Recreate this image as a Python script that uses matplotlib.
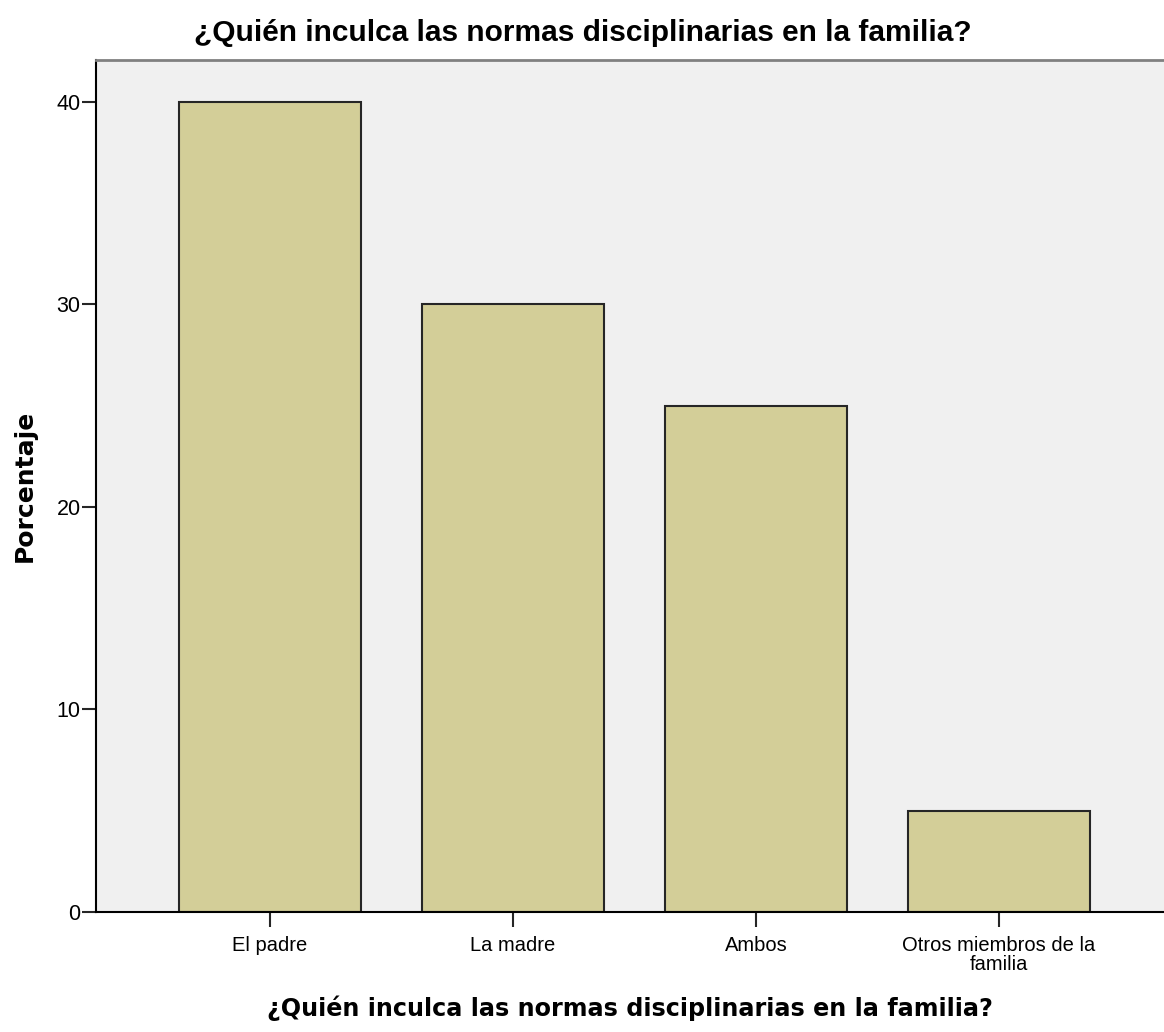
import matplotlib.pyplot as plt

categories = ["El padre", "La madre", "Ambos", "Otros miembros de la\nfamilia"]
values = [40, 30, 25, 5]
yticks = [0, 10, 20, 30, 40]
title = "¿Quién inculca las normas disciplinarias en la familia?"


def main():
    fig = plt.figure(figsize=(11.64, 10.32), dpi=100)
    ax = fig.add_axes([96 / 1164, 120 / 1032, 1068 / 1164, 852 / 1032])
    ax.set_facecolor("#f0f0f0")

    x = range(len(categories))
    ax.bar(x, values, width=0.75, color="#d3ce98", edgecolor="#262626", linewidth=1.5, zorder=2)

    ax.set_xlim(-0.716, 3.68)
    ax.set_ylim(0, 42.07)
    ax.set_yticks(yticks)
    ax.set_xticks(list(x))
    ax.set_xticklabels(categories, fontsize=14.5, family="Liberation Sans", linespacing=1.0)
    for lab in ax.get_yticklabels():
        lab.set_fontsize(15.5)
        lab.set_family("Liberation Sans")
    ax.tick_params(axis="both", direction="out", length=10, width=1.5, color="#262626", pad=1)
    ax.tick_params(axis="x", length=11, pad=6)

    ax.spines["left"].set_linewidth(1.5)
    ax.spines["bottom"].set_linewidth(1.5)
    ax.spines["top"].set_color("#808080")
    ax.spines["top"].set_linewidth(2)
    ax.spines["right"].set_visible(False)

    ax.set_ylabel("Porcentaje", fontsize=18, fontweight="bold", family="DejaVu Sans", labelpad=14)
    ax.set_xlabel(title, fontsize=17.2, fontweight="bold", family="DejaVu Sans", labelpad=16)
    fig.text(583 / 1164, 1 - 33 / 1032, title, ha="center", va="center", fontsize=21.5,
             fontweight="bold", family="Liberation Sans")

    fig.savefig("out.png", dpi=100)


if __name__ == "__main__":
    main()
